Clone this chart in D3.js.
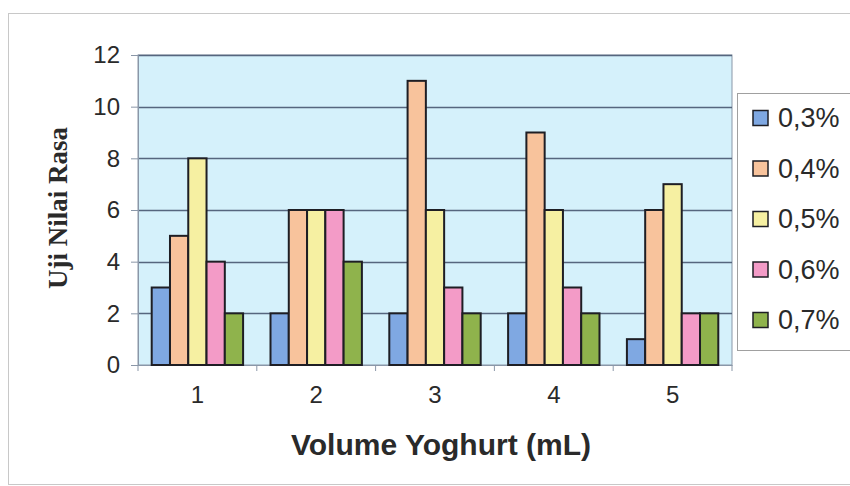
<!DOCTYPE html>
<html>
<head>
<meta charset="utf-8">
<script src="https://cdn.jsdelivr.net/npm/d3@7"></script>
<style>
  body { margin: 0; background: #fff; }
  svg { display: block; }
  text { font-family: Arial, "Liberation Sans", sans-serif; fill: #2a2a2a; }
</style>
</head>
<body>
<div id="chart"></div>
<script>
const categories = ['1', '2', '3', '4', '5']
const seriesNames = ['0,3%', '0,4%', '0,5%', '0,6%', '0,7%']
const s03 = [3, 2, 2, 2, 1]
const s04 = [5, 6, 11, 9, 6]
const s05 = [8, 6, 6, 6, 7]
const s06 = [4, 6, 3, 3, 2]
const s07 = [2, 4, 2, 2, 2]
const yTicks = [0, 2, 4, 6, 8, 10, 12]

const seriesValues = [s03, s04, s05, s06, s07]
const colors = ['#7fa8e2', '#f8c39c', '#f6f0a2', '#f39bc7', '#8fb34c']

const width = 850, height = 486
const plot = { left: 138, right: 732, top: 55, bottom: 365 }

const svg = d3.select('#chart').append('svg')
    .attr('width', width)
    .attr('height', height)

// outer chart frame
svg.append('rect')
    .attr('x', 8.5).attr('y', 13.5)
    .attr('width', 900).attr('height', 471)
    .attr('fill', 'none')
    .attr('stroke', '#c8c8c8')

const x0 = d3.scaleBand()
    .domain(categories)
    .range([plot.left, plot.right])

const x1 = d3.scaleBand()
    .domain(seriesNames)
    .range([0, x0.bandwidth()])
    .paddingInner(0)
    .paddingOuter(0.75)

const y = d3.scaleLinear()
    .domain([0, 12])
    .range([plot.bottom, plot.top])

// plot background
svg.append('rect')
    .attr('x', plot.left).attr('y', plot.top)
    .attr('width', plot.right - plot.left)
    .attr('height', plot.bottom - plot.top)
    .attr('fill', '#d5f1fb')
    .attr('stroke', '#8a97a8')
    .attr('stroke-width', 1)

// gridlines
svg.append('g')
    .selectAll('line')
    .data(yTicks.filter(d => d > 0))
    .enter().append('line')
    .attr('x1', plot.left).attr('x2', plot.right)
    .attr('y1', d => Math.round(y(d)) + 0.5)
    .attr('y2', d => Math.round(y(d)) + 0.5)
    .attr('stroke', '#56667e')
    .attr('stroke-width', 1.3)

// y axis
const yAxis = svg.append('g')
    .attr('transform', 'translate(' + plot.left + ',0)')
    .call(d3.axisLeft(y).tickValues(yTicks).tickSize(7).tickPadding(11))
yAxis.select('.domain').attr('stroke', '#8a97a8')
yAxis.selectAll('.tick line').attr('stroke', '#8a97a8')
yAxis.selectAll('.tick text')
    .attr('font-size', 24)
    .attr('font-family', 'Arial, "Liberation Sans", sans-serif')
    .attr('fill', '#2a2a2a')

// x axis: ticks at band boundaries
const xAxis = svg.append('g')
    .attr('transform', 'translate(0,' + plot.bottom + ')')
    .call(d3.axisBottom(x0).tickSize(0).tickPadding(21))
xAxis.select('.domain').attr('stroke', '#8a97a8')
xAxis.selectAll('.tick text')
    .attr('font-size', 24)
    .attr('font-family', 'Arial, "Liberation Sans", sans-serif')
    .attr('fill', '#2a2a2a')
xAxis.selectAll('.sep')
    .data(categories.concat(['end']))
    .enter().append('line')
    .attr('x1', (d, i) => plot.left + i * x0.step())
    .attr('x2', (d, i) => plot.left + i * x0.step())
    .attr('y1', 0).attr('y2', 6)
    .attr('stroke', '#8a97a8')

// bars
const groups = svg.append('g')
    .selectAll('g')
    .data(categories)
    .enter().append('g')
    .attr('transform', d => 'translate(' + x0(d) + ',0)')

groups.selectAll('rect')
    .data((c, ci) => seriesNames.map((s, si) => ({ s: s, si: si, v: seriesValues[si][ci] })))
    .enter().append('rect')
    .attr('x', d => x1(d.s))
    .attr('width', x1.bandwidth())
    .attr('y', d => y(d.v))
    .attr('height', d => y(0) - y(d.v))
    .attr('fill', d => colors[d.si])
    .attr('stroke', '#1e1e24')
    .attr('stroke-width', 2)

// axis titles
svg.append('text')
    .attr('x', 441).attr('y', 455)
    .attr('text-anchor', 'middle')
    .attr('font-size', 30)
    .attr('font-weight', 'bold')
    .attr('fill', '#333')
    .text('Volume Yoghurt (mL)')

svg.append('text')
    .attr('transform', 'translate(67,208) rotate(-90)')
    .attr('text-anchor', 'middle')
    .attr('font-size', 27)
    .attr('font-weight', 'bold')
    .style('font-family', '"Liberation Serif", "Times New Roman", serif')
    .attr('fill', '#333')
    .text('Uji Nilai Rasa')

// legend
const legend = svg.append('g')
legend.append('rect')
    .attr('x', 737.5).attr('y', 93.5)
    .attr('width', 140).attr('height', 257)
    .attr('fill', '#fff')
    .attr('stroke', '#a0a0a0')

const item = legend.selectAll('.item')
    .data(seriesNames)
    .enter().append('g')
    .attr('transform', (d, i) => 'translate(753,' + (118 + i * 50.5) + ')')

item.append('rect')
    .attr('x', 0).attr('y', -7.5)
    .attr('width', 15).attr('height', 15)
    .attr('fill', (d, i) => colors[i])
    .attr('stroke', '#1e1e24')
    .attr('stroke-width', 1.5)

item.append('text')
    .attr('x', 25).attr('y', 0)
    .attr('dy', '0.35em')
    .attr('font-size', 27)
    .text(d => d)
</script>
</body>
</html>
